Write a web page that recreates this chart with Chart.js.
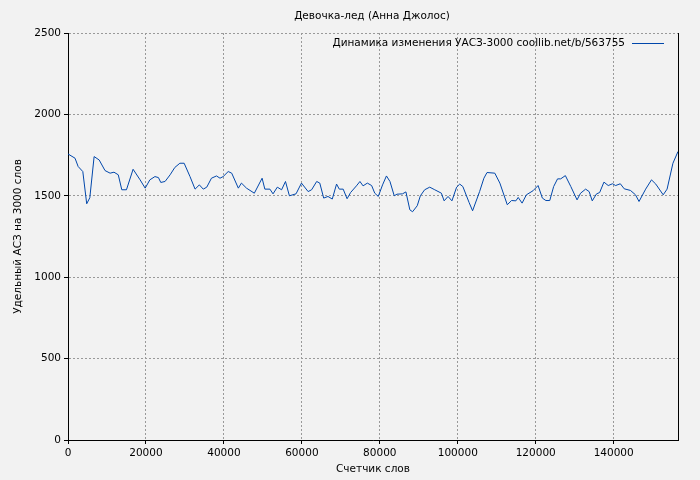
<!DOCTYPE html>
<html>
<head>
<meta charset="utf-8">
<script src="https://cdn.jsdelivr.net/npm/chart.js@4"></script>
<style>
  html, body { margin: 0; padding: 0; background: #f2f2f2; }
  #wrap { width: 700px; height: 480px; }
</style>
</head>
<body>
<div id="wrap"><canvas id="chart"></canvas></div>
<script>
// Word counter positions and specific vocabulary values
const words = [0, 1800, 2600, 3800, 4800, 5600, 6700, 8000, 9500, 10800, 11800, 12900, 13800, 15000, 16700, 18500, 19800, 21000, 22300, 23200, 23800, 24900, 26200, 27400, 28700, 29800, 31300, 32600, 33700, 34700, 35600, 36800, 38100, 39000, 39800, 41100, 42000, 43700, 44500, 45800, 47800, 49800, 50500, 51800, 52600, 53700, 54800, 55800, 56800, 58500, 59900, 61600, 62500, 63800, 64600, 65600, 66700, 67800, 68900, 69600, 70600, 71600, 72500, 74000, 74900, 75700, 76800, 77900, 78700, 79600, 80700, 81700, 82600, 83700, 84400, 85800, 86700, 87700, 88400, 89600, 90400, 91500, 92800, 94100, 95800, 96500, 97500, 98500, 99700, 100500, 101300, 102900, 103800, 105600, 106700, 107500, 109500, 110800, 112700, 113800, 114900, 115500, 116500, 117600, 119300, 120600, 121700, 122600, 123600, 124600, 125600, 126400, 127600, 129000, 130600, 131500, 132800, 133700, 134500, 135600, 136400, 137500, 138600, 139700, 140500, 141700, 142700, 144300, 145600, 146500, 148200, 149700, 150800, 152700, 153700, 155200, 156500];
const uasz = [1757, 1731, 1680, 1649, 1451, 1488, 1741, 1720, 1655, 1639, 1645, 1629, 1537, 1537, 1663, 1598, 1547, 1598, 1618, 1612, 1582, 1588, 1629, 1674, 1700, 1700, 1618, 1541, 1567, 1541, 1553, 1608, 1622, 1608, 1618, 1649, 1639, 1547, 1578, 1547, 1516, 1608, 1541, 1541, 1512, 1553, 1537, 1588, 1500, 1512, 1578, 1526, 1537, 1588, 1578, 1486, 1496, 1480, 1572, 1541, 1541, 1482, 1520, 1561, 1588, 1561, 1578, 1563, 1516, 1496, 1567, 1622, 1588, 1500, 1510, 1512, 1524, 1414, 1402, 1439, 1500, 1537, 1553, 1537, 1516, 1469, 1496, 1469, 1553, 1572, 1557, 1459, 1408, 1526, 1608, 1643, 1639, 1578, 1445, 1471, 1469, 1490, 1455, 1506, 1531, 1563, 1486, 1471, 1471, 1557, 1604, 1604, 1624, 1557, 1475, 1516, 1541, 1526, 1469, 1512, 1520, 1584, 1563, 1574, 1563, 1574, 1543, 1533, 1506, 1465, 1541, 1598, 1572, 1506, 1541, 1700, 1772];

const xTicks = [0, 20000, 40000, 60000, 80000, 100000, 120000, 140000];
const yTicks = [0, 500, 1000, 1500, 2000, 2500];

const chartTitle = 'Девочка-лед (Анна Джолос)';
const seriesLabel = 'Динамика изменения УАСЗ-3000 coollib.net/b/563755';
const FONT = 'DejaVu Sans';
const FS = 10.5;

// Title and inline legend are drawn by hand, like the original plot
const decorations = {
    id: 'decorations',
    afterDraw(chart) {
        const ctx = chart.ctx;
        const area = chart.chartArea;
        ctx.save();
        ctx.fillStyle = '#000';
        ctx.font = FS + 'px "' + FONT + '"';
        ctx.textAlign = 'center';
        ctx.textBaseline = 'middle';
        ctx.fillText(chartTitle, 372, 16);
        ctx.textAlign = 'right';
        ctx.fillText(seriesLabel, area.right - 53, area.top + 10);
        ctx.strokeStyle = '#0047ab';
        ctx.lineWidth = 1;
        ctx.beginPath();
        ctx.moveTo(area.right - 46, area.top + 10.5);
        ctx.lineTo(area.right - 14, area.top + 10.5);
        ctx.stroke();
        // right frame edge
        ctx.strokeStyle = '#000';
        ctx.beginPath();
        ctx.moveTo(area.right + 0.5, area.top);
        ctx.lineTo(area.right + 0.5, area.bottom);
        ctx.stroke();
        ctx.restore();
    }
};

new Chart(document.getElementById('chart'), {
    type: 'line',
    data: {
        datasets: [{
            data: words.map((w, i) => ({ x: w, y: uasz[i] })),
            borderColor: '#0047ab',
            borderWidth: 1,
            pointRadius: 0,
            tension: 0
        }]
    },
    options: {
        responsive: true,
        maintainAspectRatio: false,
        animation: false,
        layout: { padding: { top: 33, right: 22, left: 8, bottom: 0 } },
        plugins: { legend: { display: false }, tooltip: { enabled: false } },
        scales: {
            x: {
                type: 'linear',
                min: 0,
                max: 156500,
                afterFit: s => { s.height = 40; },
                afterBuildTicks: s => { s.ticks = xTicks.map(v => ({ value: v })); },
                ticks: {
                    color: '#000',
                    font: { family: FONT, size: FS },
                    maxRotation: 0,
                    autoSkip: false,
                    callback: v => String(v)
                },
                grid: { color: '#999', tickColor: '#000', tickLength: 4 },
                border: { color: '#000', width: 1, dash: [2, 2] },
                title: { display: true, text: 'Счетчик слов', color: '#000', font: { family: FONT, size: FS }, padding: { top: 0 } }
            },
            y: {
                min: 0,
                max: 2500,
                afterFit: s => { s.width = 60; },
                afterBuildTicks: s => { s.ticks = yTicks.map(v => ({ value: v })); },
                ticks: {
                    color: '#000',
                    font: { family: FONT, size: FS },
                    callback: v => String(v)
                },
                grid: { color: '#999', tickColor: '#000', tickLength: 4 },
                border: { color: '#000', width: 1, dash: [2, 2] },
                title: { display: true, text: 'Удельный АСЗ на 3000 слов', color: '#000', font: { family: FONT, size: FS }, padding: { bottom: 2 } }
            }
        }
    },
    plugins: [decorations]
});
</script>
</body>
</html>
